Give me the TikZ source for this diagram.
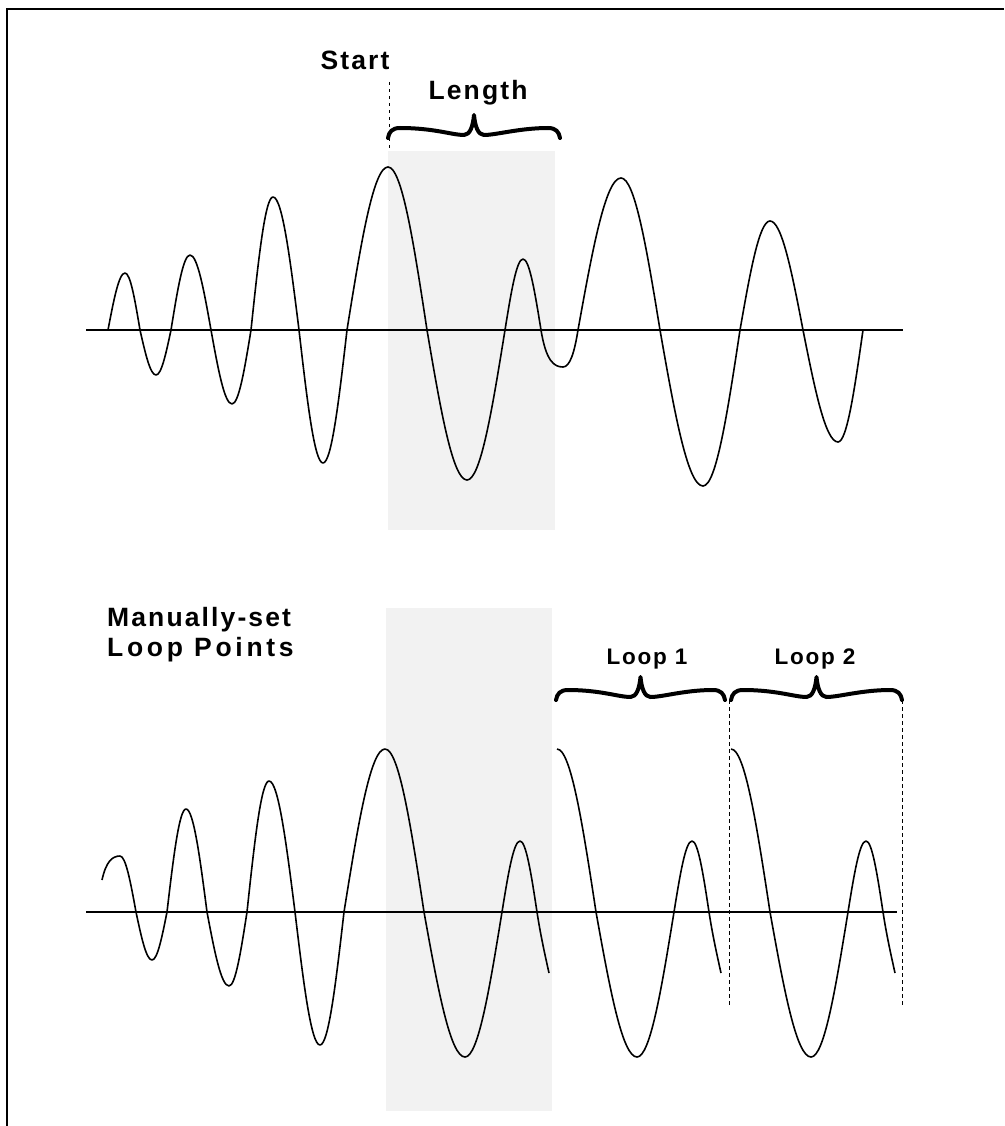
\documentclass[tikz,border=0pt]{standalone}
\usepackage{fontspec}
\newfontfamily\labfont[LetterSpace=8]{Liberation Sans}
\newcommand\qu[3]{.. controls ({#1+0.3343*(#2-#1)},{\ax+0.5251*(#3-\ax)}) and ({#1+0.6419*(#2-#1)},{#3}) .. (#2,#3)}
\newcommand\qd[3]{.. controls ({#1+0.3581*(#3-#1)},{#2}) and ({#1+0.6657*(#3-#1)},{\ax+0.5251*(#2-\ax)}) .. (#3,\ax)}
\newcommand\hw[4]{\qu{#1}{#2}{#4} \qd{#2}{#4}{#3}}
\newcommand\loopseg{\qd{385}{749}{424} \hw{424}{465}{502}{1057} \qu{502}{520}{841} \qd{520}{841}{537} .. controls (540.5,935) and (545,955) .. (549,973)}
\newcommand\curly[3]{(#1,#3) .. controls ({#1+1},{#3-6}) and ({#1+4},{#3-10}) .. ({#1+12},{#3-10})
 .. controls ({(#1+#2)/2-40},{#3-10}) and ({(#1+#2)/2-22},{#3-3}) .. ({(#1+#2)/2-10},{#3-3})
 .. controls ({(#1+#2)/2-4},{#3-3}) and ({(#1+#2)/2-1},{#3-12}) .. ({(#1+#2)/2},{#3-23})
 .. controls ({(#1+#2)/2+1},{#3-12}) and ({(#1+#2)/2+4},{#3-3}) .. ({(#1+#2)/2+10},{#3-3})
 .. controls ({(#1+#2)/2+22},{#3-3}) and ({#2-40},{#3-10}) .. ({#2-12},{#3-10})
 .. controls ({#2-4},{#3-10}) and ({#2-1},{#3-6}) .. (#2,#3)}
\begin{document}
\begin{tikzpicture}[x=1pt,y=-1pt,
  wave/.style={line width=1.6pt,line join=round},
  axisline/.style={line width=1.5pt},
  shade/.style={fill=black!5,draw=none},
  bracestyle/.style={line width=4pt,line cap=round,line join=round},
  guide/.style={line width=1pt,dash pattern=on 3.5pt off 3.5pt},
  biglabel/.style={font=\labfont\bfseries\fontsize{26.5}{30}\selectfont,inner sep=0pt},
  looplabel/.style={font=\labfont\bfseries\fontsize{22.5}{26}\selectfont,inner sep=0pt}]
\useasboundingbox (0,0) rectangle (1004,1126);
\fill[white] (0,0) rectangle (1004,1126);
% frame
\draw[line width=1.3pt] (7,1126) -- (7,9) -- (1004,9);
% shaded regions
\fill[shade] (388,151) rectangle (555,530);
\fill[shade] (386,608) rectangle (552,1111);
% axes
\coordinate (ua1) at (86,330); \coordinate (ua2) at (903,330);
\coordinate (la1) at (86,912); \coordinate (la2) at (897,912);
\draw[axisline] (ua1) -- (ua2);
\draw[axisline] (la1) -- (la2);
% upper wave
\def\ax{330}
\draw[wave] (108,330) \hw{108}{125}{140}{273} \hw{140}{156}{171}{375} \hw{171}{190}{211}{255} \hw{211}{232}{251}{404} \hw{251}{273}{299}{197} \hw{299}{323}{347}{463} \hw{347}{388}{427}{167} \hw{427}{467}{505}{480} \qu{505}{523}{259} \qd{523}{259}{541}
 .. controls (546,361) and (554,367) .. (563,367) .. controls (570,367) and (574.5,352) .. (578,330)
 \hw{578}{621}{660}{178} \hw{660}{703}{740}{486} \hw{740}{770}{803}{221} \hw{803}{838}{863}{442};
% lower wave
\def\ax{912}
\draw[wave] (102,880) .. controls (106,862) and (112,856) .. (120,856) \qd{120}{856}{136} \hw{136}{152}{167}{960} \hw{167}{186}{207}{809} \hw{207}{229}{247}{986} \hw{247}{269}{295}{781} \hw{295}{320}{344}{1045} \qu{344}{385}{749} \loopseg;
\begin{scope}[xshift=172pt]
\draw[wave] (385,749) \loopseg;
\end{scope}
\begin{scope}[xshift=346pt]
\draw[wave] (385,749) \loopseg;
\end{scope}
% labels
\node[biglabel] (start) at (355,60) {Start};
\node[biglabel] (len) at (478,93) {Length};
\node[biglabel,align=left,anchor=north west] (man) at (107,607) {Manually-set\\\addfontfeature{LetterSpace=14}Loop Points};
\node[looplabel] (l1) at (647,659) {Loop 1};
\node[looplabel] (l2) at (815,659) {Loop 2};
% guides
\coordinate (s1) at (389,82); \coordinate (s2) at (389,151);
\draw[guide] (s1) -- (s2);
\coordinate (d1a) at (729,700); \coordinate (d1b) at (729,1008);
\coordinate (d2a) at (902,700); \coordinate (d2b) at (902,1008);
\draw[guide] (d1a) -- (d1b);
\draw[guide] (d2a) -- (d2b);
% braces
\draw[bracestyle] \curly{388}{560}{138};
\draw[bracestyle] \curly{556}{725}{700};
\draw[bracestyle] \curly{731}{902}{700};
\end{tikzpicture}
\end{document}
